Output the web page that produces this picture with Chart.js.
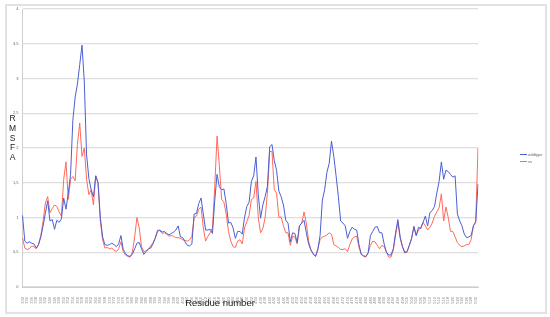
<!DOCTYPE html>
<html>
<head>
<meta charset="utf-8">
<script src="https://cdn.jsdelivr.net/npm/chart.js@4/dist/chart.umd.min.js"></script>
<style>
  body { margin: 0; background: #fff; font-family: "Liberation Sans", Arial, sans-serif; }
  #wrap { position: relative; width: 550px; height: 317px; }
  #frame { position: absolute; left: 5px; top: 4px; width: 538px; height: 306px; border: 2px solid #e2e2e2; }
  canvas { position: absolute; left: 0; top: 0; }
  #ytitle { position: absolute; left: 7px; top: 114px; width: 11px; text-align: center; font-size: 8.5px; line-height: 9.8px; color: #222; }
  #xtitle { position: absolute; left: 160px; top: 297px; width: 120px; text-align: center; font-size: 9.5px; color: #222; }
  #legend { position: absolute; left: 520px; top: 151px; font-size: 4px; color: #666; line-height: 7px; }
  #legend span.sw { display: inline-block; width: 7px; height: 1px; vertical-align: middle; margin-right: 1px; }
</style>
</head>
<body>
<div id="wrap">
  <div id="frame"></div>
  <canvas id="rmsfChart" width="550" height="317"></canvas>
  <div id="ytitle">R<br>M<br>S<br>F<br>A</div>
  <div id="xtitle">Residue number</div>
  <div id="legend"></div>
</div>
<script>
// residue numbering (labels on every second residue)
const residues = [];
for (let r = 332; r < 532; r++) residues.push(r);

const seriesNames = ['wildtype', 'ss'];
const seriesColors = ['#4b5fd3', '#ff6a5c'];

const blueRmsf = [
    1.03, 0.66, 0.63, 0.65, 0.63, 0.62, 0.56, 0.61, 0.72, 0.88,
    1.06, 1.24, 0.95, 0.97, 0.83, 0.96, 0.93, 0.98, 1.28, 1.12,
    1.35, 1.62, 2.40, 2.73, 2.92, 3.20, 3.48, 2.95, 1.90, 1.56,
    1.40, 1.30, 1.60, 1.50, 1.00, 0.72, 0.61, 0.60, 0.61, 0.63,
    0.61, 0.58, 0.62, 0.74, 0.54, 0.48, 0.45, 0.44, 0.47, 0.55,
    0.63, 0.64, 0.55, 0.47, 0.51, 0.55, 0.56, 0.62, 0.70, 0.80,
    0.82, 0.79, 0.80, 0.77, 0.75, 0.77, 0.79, 0.82, 0.88, 0.72,
    0.71, 0.65, 0.60, 0.59, 0.62, 1.05, 1.06, 1.20, 1.28, 1.05,
    0.82, 0.82, 0.83, 0.77, 1.25, 1.62, 1.44, 1.40, 1.41, 1.20,
    0.92, 0.93, 0.85, 0.70, 0.80, 0.80, 0.76, 1.00, 1.16, 1.22,
    1.52, 1.60, 1.87, 1.33, 0.99, 1.18, 1.30, 1.45, 2.02, 2.05,
    1.82, 1.68, 1.38, 1.30, 1.18, 0.96, 0.92, 0.65, 0.78, 0.77,
    0.64, 0.88, 0.92, 0.96, 0.78, 0.62, 0.53, 0.48, 0.44, 0.53,
    0.74, 1.25, 1.40, 1.65, 1.78, 2.10, 1.88, 1.60, 1.30, 0.95,
    0.92, 0.88, 0.70, 0.80, 0.86, 0.83, 0.82, 0.61, 0.47, 0.45,
    0.44, 0.49, 0.74, 0.80, 0.86, 0.87, 0.78, 0.78, 0.62, 0.50,
    0.46, 0.46, 0.55, 0.78, 0.97, 0.72, 0.58, 0.49, 0.51, 0.60,
    0.70, 0.87, 0.74, 0.86, 0.84, 0.93, 1.02, 0.88, 1.07, 1.10,
    1.16, 1.35, 1.52, 1.80, 1.55, 1.68, 1.66, 1.62, 1.58, 1.60,
    1.05, 0.95, 0.88, 0.76, 0.71, 0.72, 0.74, 0.88, 0.93, 1.48
];

const redRmsf = [
    0.71, 0.56, 0.54, 0.55, 0.59, 0.58, 0.55, 0.61, 0.74, 0.95,
    1.21, 1.30, 1.07, 1.13, 1.18, 1.16, 1.08, 1.02, 1.55, 1.80,
    1.26, 1.55, 1.59, 1.53, 2.05, 2.36, 1.88, 2.00, 1.55, 1.33,
    1.40, 1.18, 1.60, 1.50, 0.95, 0.68, 0.56, 0.57, 0.55, 0.56,
    0.53, 0.51, 0.55, 0.65, 0.51, 0.46, 0.44, 0.43, 0.50, 0.72,
    1.00, 0.85, 0.58, 0.51, 0.52, 0.54, 0.59, 0.64, 0.71, 0.82,
    0.81, 0.77, 0.78, 0.76, 0.73, 0.74, 0.73, 0.71, 0.71, 0.70,
    0.68, 0.67, 0.66, 0.68, 0.73, 1.00, 1.02, 1.12, 1.15, 0.85,
    0.66, 0.73, 0.78, 0.85, 1.45, 2.17, 1.75, 1.26, 1.22, 1.05,
    0.80, 0.66, 0.58, 0.57, 0.66, 0.68, 0.62, 0.85, 0.94, 1.03,
    1.26, 1.28, 1.52, 1.00, 0.78, 0.84, 1.00, 1.35, 1.95, 1.95,
    1.40, 1.35, 1.00, 1.01, 0.88, 0.78, 0.78, 0.60, 0.73, 0.72,
    0.62, 0.88, 0.92, 1.08, 0.92, 0.66, 0.54, 0.47, 0.44, 0.55,
    0.68, 0.72, 0.73, 0.75, 0.78, 0.76, 0.61, 0.59, 0.57, 0.54,
    0.54, 0.55, 0.51, 0.61, 0.69, 0.72, 0.73, 0.57, 0.47, 0.44,
    0.43, 0.49, 0.60, 0.66, 0.65, 0.60, 0.55, 0.60, 0.58, 0.50,
    0.43, 0.43, 0.53, 0.75, 0.93, 0.70, 0.58, 0.51, 0.50, 0.60,
    0.70, 0.87, 0.74, 0.82, 0.86, 0.93, 0.88, 0.82, 0.86, 0.92,
    1.02, 1.08, 1.14, 1.34, 0.95, 1.15, 1.00, 0.80, 0.80, 0.72,
    0.64, 0.60, 0.58, 0.59, 0.61, 0.61, 0.68, 0.88, 0.95, 2.00
];

// legend
const legendEl = document.getElementById('legend');
seriesNames.forEach(function (name, i) {
    legendEl.innerHTML += '<div><span class="sw" style="background:' + seriesColors[i] + '"></span>' + name + '</div>';
});

const rmsfData = {
    labels: residues,
    datasets: [{
        label: seriesNames[0],
        data: blueRmsf,
        borderColor: seriesColors[0],
        borderWidth: 1,
        pointRadius: 0,
        tension: 0
    }, {
        label: seriesNames[1],
        data: redRmsf,
        borderColor: seriesColors[1],
        borderWidth: 1,
        pointRadius: 0,
        tension: 0
    }]
};

const rmsfConfig = {
    type: 'line',
    data: rmsfData,
    options: {
        responsive: false,
        animation: false,
        layout: { padding: { left: 0, top: 9, right: 72, bottom: 0 } },
        plugins: {
            legend: { display: false },
            tooltip: { enabled: false }
        },
        scales: {
            x: {
                afterFit: function (s) { s.height = 30; },
                grid: { display: false },
                border: { display: true, color: '#cfcfcf', width: 1 },
                ticks: {
                    autoSkip: false,
                    minRotation: 90,
                    maxRotation: 90,
                    padding: 2,
                    color: '#888',
                    font: { size: 4, family: 'Liberation Sans' },
                    callback: function (v, i) { return i % 2 === 0 ? residues[i] : ''; }
                }
            },
            y: {
                min: 0,
                max: 4,
                afterFit: function (s) { s.width = 22.5; },
                grid: { color: '#dedede', lineWidth: 1.3, drawTicks: false },
                border: { display: true, color: '#cfcfcf', width: 1 },
                ticks: {
                    stepSize: 0.5,
                    padding: 4,
                    color: '#666',
                    font: { size: 4, family: 'Liberation Sans' },
                    callback: function (v) { return String(v).replace('.', ','); }
                }
            }
        }
    }
};

new Chart(document.getElementById('rmsfChart'), rmsfConfig);
</script>
</body>
</html>
